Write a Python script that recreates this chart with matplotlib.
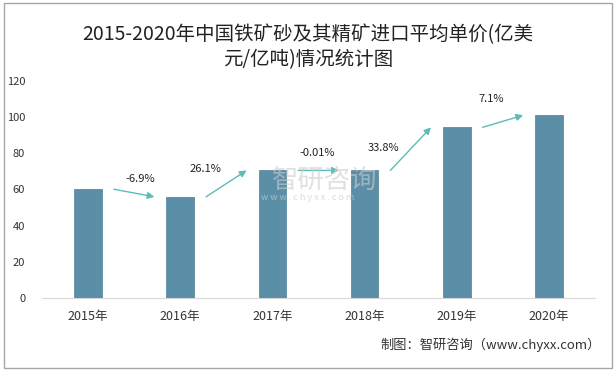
import matplotlib
matplotlib.use("Agg")
import matplotlib.pyplot as plt
from matplotlib.patches import Rectangle

plt.rcParams['font.family'] = ['Noto Sans CJK SC', 'DejaVu Sans']

# 数据
years = ['2015年', '2016年', '2017年', '2018年', '2019年', '2020年']
prices = [60.1, 55.9, 70.5, 70.5, 94.3, 101.0]
growth = ['-6.9%', '26.1%', '-0.01%', '33.8%', '7.1%']
# 增长率标签相对箭头中点的偏移 (x, y)
label_offsets = [(0.07, 7.7), (-0.23, 7.9), (-0.01, 9.7), (-0.3, 0.7), (-0.13, 12.3)]

bar_color = '#5b8fa7'
arrow_color = '#5bbdb5'

fig = plt.figure(figsize=(6.16, 3.71), dpi=100)
ax = fig.add_axes([0.068, 0.197, 0.898, 0.585])

x = range(len(years))
ax.bar(x, prices, width=0.3, color=bar_color, edgecolor='#4f7f96', linewidth=0.5, zorder=3)

# 箭头 + 增长率
for i, g in enumerate(growth):
    x0, y0 = i + 0.28, prices[i]
    x1, y1 = i + 0.72, prices[i + 1]
    ax.annotate('', xy=(x1, y1), xytext=(x0, y0),
                arrowprops=dict(arrowstyle='-|>', color=arrow_color, lw=1.0,
                                mutation_scale=10, shrinkA=0, shrinkB=0), zorder=4)
    dx, dy = label_offsets[i]
    ax.text((x0 + x1) / 2 + dx, (y0 + y1) / 2 + dy, g, ha='center', va='center',
            fontsize=8, color='#222222', zorder=5)

ax.set_xlim(-0.5, len(years) - 0.5)
ax.set_ylim(0, 120)
ax.set_yticks(range(0, 121, 20))
ax.set_xticks(list(x))
ax.set_xticklabels(years)
ax.tick_params(axis='both', length=0, colors='#333333')
ax.tick_params(axis='x', pad=9, labelsize=9)
ax.tick_params(axis='y', pad=12, labelsize=8)
for s in ['top', 'right', 'left']:
    ax.spines[s].set_visible(False)
ax.spines['bottom'].set_color('#d9d9d9')

# 水印
fig.text(0.527, 0.515, '智研咨询', fontsize=19, color='#cccccc', alpha=0.6,
         ha='center', va='center', zorder=0)
fig.text(0.50, 0.469, 'w w w . c h y x x . c o m', fontsize=6.5, color='#cccccc',
         alpha=0.7, ha='center', va='center', zorder=0)

# 标题
fig.text(0.5, 0.873, '2015-2020年中国铁矿砂及其精矿进口平均单价(亿美\n元/亿吨)情况统计图',
         ha='center', va='center', fontsize=14, color='#222222', linespacing=1.25)

fig.text(0.975, 0.07, '制图：智研咨询（www.chyxx.com）', ha='right', va='center',
         fontsize=9.5, color='#333333')

# 外框
fig.patches.append(Rectangle((0.006, 0.008), 0.988, 0.984, transform=fig.transFigure,
                             fill=False, edgecolor='#a6a6a6', linewidth=1.0))

fig.savefig('out.png', dpi=100)
